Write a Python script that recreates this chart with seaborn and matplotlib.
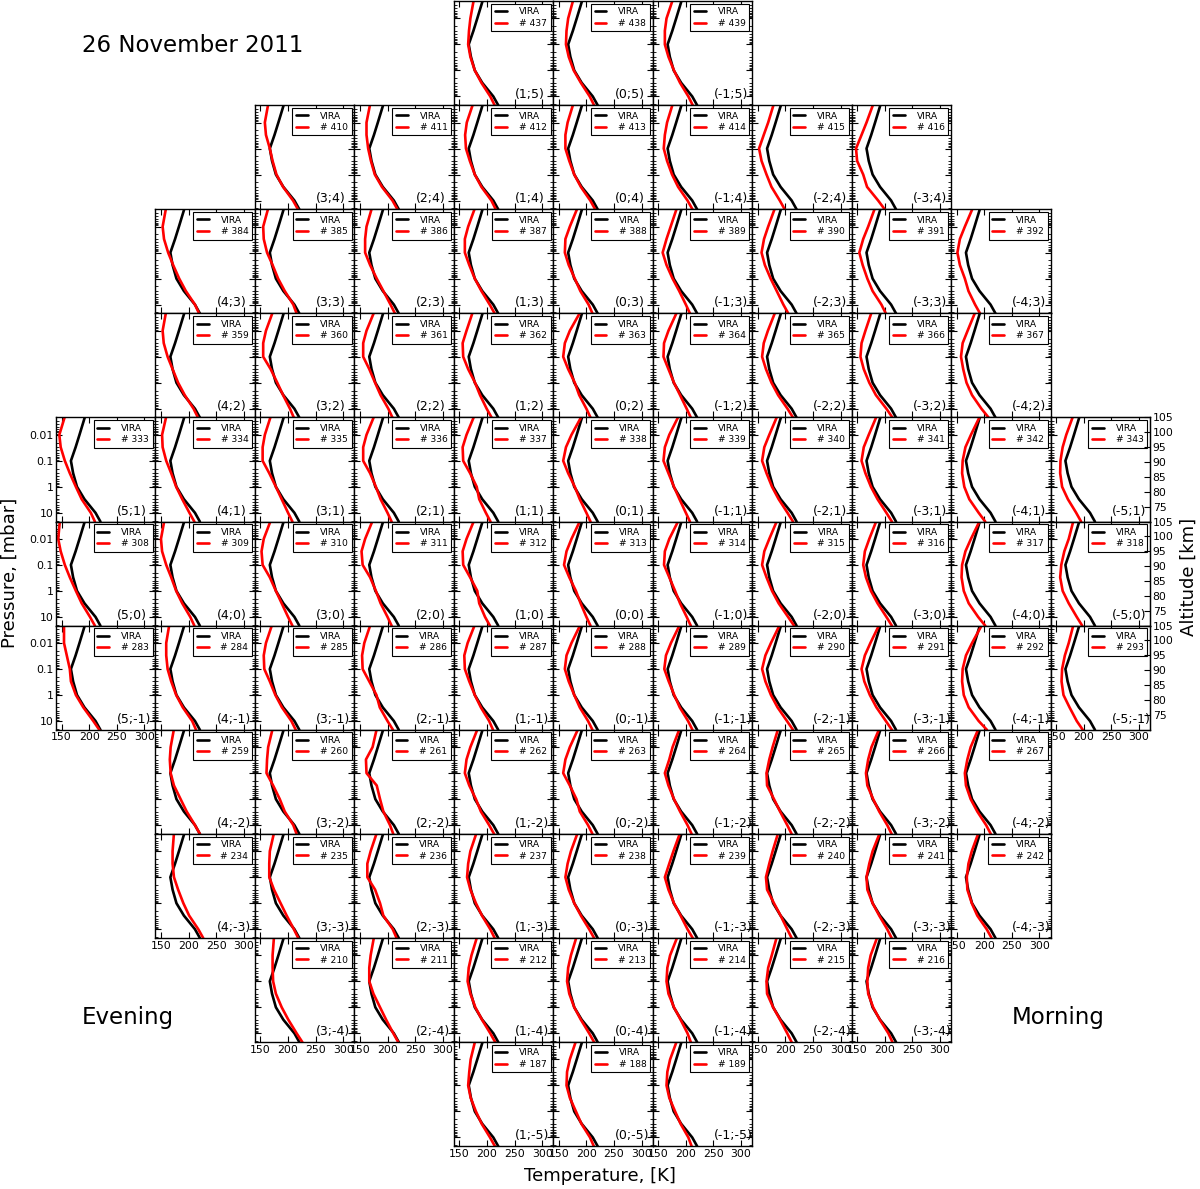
import pandas as pd
import seaborn as sns
import matplotlib.pyplot as plt
from matplotlib.ticker import FixedLocator, LogLocator, NullFormatter

sns.set_style("ticks", {"xtick.direction": "in", "ytick.direction": "in",
                        "axes.edgecolor": "black", "text.color": "black",
                        "xtick.color": "black", "ytick.color": "black",
                        "axes.labelcolor": "black"})
plt.rcParams['font.family'] = ['DejaVu Sans']

# pressure levels [mbar] (top -> bottom) and VIRA reference temperature [K]
pressure = [0.002, 0.01, 0.03, 0.1, 0.3, 1, 3, 10, 22]
vira = [192.5, 182.5, 175.5, 167, 171, 178, 191.5, 211.5, 220.5]

# grid rows: latitude index, first (leftmost) x index, first profile number
row_y = [5, 4, 3, 2, 1, 0, -1, -2, -3, -4, -5]
row_x0 = [1, 3, 4, 4, 5, 5, 5, 4, 4, 3, 1]
row_id0 = [437, 410, 384, 359, 333, 308, 283, 259, 234, 210, 187]

# retrieved temperature profiles, one list per panel, left to right
red_y5 = [[176, 170, 167.5, 166, 170, 178, 190, 206, 214],
          [176, 167, 164, 163, 168, 177, 190, 206, 214],
          [176, 165, 162, 162, 168.5, 178.5, 189.5, 204.5, 212.5]]
red_y4 = [[164, 158, 160, 167, 172, 179, 191, 209, 218],
          [168.5, 162, 162, 165, 170, 177, 190, 209, 218],
          [174.5, 163.5, 160.5, 162, 169, 178, 190, 208, 216],
          [176, 166, 162, 162, 169, 178, 190, 207, 216],
          [176, 166, 162, 160, 166, 175, 186, 203, 212],
          [179, 169, 161, 152.5, 157, 166, 175, 190, 199],
          [179, 167, 158, 148, 150, 161, 168, 188, 200]]
red_y3 = [[159, 153, 155.5, 163, 172, 183, 195, 211.5, 219],
          [164, 155, 156, 162, 172, 182, 194, 209.5, 215.5],
          [171.5, 162, 159.5, 159.5, 168.5, 180.5, 192.5, 205.5, 213.5],
          [178, 166, 160, 160, 168, 178, 190, 205, 214],
          [183.5, 170, 162, 161, 168, 179, 189, 204, 211],
          [183.5, 172.5, 165, 158, 165, 176, 188, 200, 207.5],
          [181, 169, 161.5, 157, 163, 173.5, 184.5, 196.5, 205.5],
          [182, 170, 161, 154, 160, 168.5, 178, 194, 202],
          [179, 165, 156, 151.5, 156, 165, 171.5, 183.5, 192.5]]
red_y2 = [[159, 153, 155, 162, 171, 181, 193, 209, 217],
          [172, 160, 155, 155, 168.5, 180.5, 191, 203.5, 210.5],
          [175.5, 162, 156, 156, 167, 177.5, 187.5, 201.5, 209],
          [174, 163, 156, 157, 166, 178.5, 187.5, 199.5, 208.5],
          [188.5, 170, 161, 158, 167, 179, 187, 200, 207.5],
          [183.5, 168.5, 160.5, 159.5, 168.5, 178.5, 189.5, 201.5, 209],
          [181.5, 168.5, 161, 158, 165, 175, 187, 204, 214],
          [176, 165, 158, 156, 162, 172, 184, 203, 214],
          [183.5, 170, 161, 158, 162, 168, 178, 195, 208]]
red_y1 = [[156, 146, 148.5, 156, 165, 176, 186.5, 203, 210.5],
          [159.5, 152, 153, 159.5, 168.5, 177.5, 188.5, 201.5, 210.5],
          [168.5, 158, 154, 154, 166, 178, 188.5, 200, 208],
          [175.5, 162, 156, 156, 168.5, 179, 187.5, 200, 207.5],
          [176.5, 163, 156, 157, 169.5, 181.5, 186, 198, 206.5],
          [191, 173, 163, 158, 167, 179, 188, 200, 207.5],
          [186.5, 170, 162, 159.5, 168.5, 178.5, 188.5, 200, 207.5],
          [185, 171, 162, 158, 166, 176, 188, 204, 214],
          [185, 171, 162, 158, 165, 175, 187, 203, 213],
          [192, 176, 166, 161, 160, 164, 173, 190, 202],
          [180.5, 168.5, 162, 158, 157.5, 161, 171.5, 186.5, 195.5]]
red_y0 = [[147, 144, 148.5, 156, 165, 176, 186.5, 201.5, 210.5],
          [156, 150, 152, 159.5, 168.5, 177.5, 188.5, 203, 210.5],
          [168.5, 156, 152, 154, 167, 178, 188.5, 200, 208],
          [173, 159.5, 153, 155, 168.5, 179, 187.5, 200, 207.5],
          [176.5, 163, 156, 157, 169.5, 182.5, 186, 196.5, 205.5],
          [188.5, 173, 164, 159.5, 169, 181, 189.5, 200, 207.5],
          [186.5, 170, 162, 160.5, 170, 180.5, 189.5, 201.5, 209],
          [185, 171, 162, 158, 166, 176, 188, 205, 216],
          [185, 172, 164, 161, 166, 175, 187, 203, 213],
          [192, 176, 166, 160, 159, 163, 172, 189, 202],
          [181.5, 173, 165, 159.5, 157.5, 162, 173, 187.5, 197.5]]
red_ym1 = [[154.5, 154.5, 159.5, 165, 167, 176, 189.5, 207.5, 218.5],
           [165, 159.5, 159.5, 162, 168.5, 177.5, 189.5, 206.5, 213.5],
           [171, 160, 156, 157, 167, 177, 189, 206, 214],
           [169, 158, 154, 155, 167, 180, 186, 200, 210],
           [178, 165, 159, 160, 168, 178, 189, 204, 211],
           [189, 173, 164, 161, 168, 178, 188, 203, 211],
           [189, 173, 164, 161, 169, 179, 189, 204, 212],
           [190, 174, 164, 158, 164, 174, 186, 203, 214],
           [190, 174, 164, 158, 163, 173, 185, 202, 213],
           [196, 178, 167, 161, 160, 163, 172, 190, 205],
           [181.5, 173, 166, 161, 160, 163.5, 174.5, 187.5, 198.5]]
red_ym2 = [[173.5, 167.5, 166, 167.5, 173.5, 185.5, 196.5, 211.5, 220.5],
           [172, 164, 162, 161, 173, 185, 194, 209.5, 215.5],
           [180.5, 173, 161, 162, 180.5, 186.5, 192.5, 204.5, 210.5],
           [183, 170, 163, 160, 168, 180, 189, 204, 213],
           [185, 170, 162, 158, 170, 182, 188, 203, 211],
           [188.5, 176, 170, 162, 168.5, 178.5, 189.5, 203, 210.5],
           [187, 177, 171, 166, 167, 179.5, 190.5, 203.5, 211.5],
           [190, 176, 170, 166, 168.5, 179, 190, 204.5, 212.5],
           [189.5, 175.5, 169.5, 165, 167, 175.5, 187.5, 203.5, 212]]
red_ym3 = [[173.5, 171, 171, 173.5, 181, 190.5, 201, 217.5, 226.5],
           [174.5, 167, 166, 166, 174.5, 186.5, 197.5, 210.5, 218.5],
           [180.5, 169.5, 163.5, 163.5, 177.5, 186.5, 192.5, 209.5, 216.5],
           [181, 170, 166, 164, 170, 180, 191, 206, 214],
           [184, 172, 166, 162, 168, 178, 190, 205, 214],
           [189.5, 177.5, 170, 162, 168.5, 178.5, 190.5, 203, 212.5],
           [187, 177, 171, 165, 167, 179.5, 191.5, 203.5, 211.5],
           [191, 178, 172, 167, 168.5, 178, 190, 204.5, 212.5],
           [189.5, 177.5, 171.5, 168.5, 169.5, 177.5, 187.5, 204.5, 213.5]]
red_ym4 = [[174.5, 172, 172, 173, 178, 188.5, 200.5, 215.5, 226],
           [175.5, 169.5, 167, 167, 174.5, 186.5, 197.5, 210.5, 219.5],
           [182, 172, 167, 165, 170, 179, 191, 206, 215],
           [182, 172, 167, 165, 169, 178, 190, 205, 214],
           [184.5, 171.5, 166.5, 165, 168.5, 178.5, 190.5, 203, 209],
           [184.5, 175.5, 169, 166, 167, 178, 190.5, 203.5, 211.5],
           [186.5, 174.5, 170, 168.5, 170, 179, 191, 206.5, 214]]
red_ym5 = [[178.5, 170.5, 168, 166, 170.5, 180, 190.5, 205.5, 214.5],
           [181, 170, 165, 164, 170, 181, 191, 206.5, 213.5],
           [183.5, 171.5, 166.5, 165, 170, 180.5, 190.5, 204.5, 210.5]]

red_rows = [red_y5, red_y4, red_y3, red_y2, red_y1, red_y0,
            red_ym1, red_ym2, red_ym3, red_ym4, red_ym5]

W, H = 1200, 1189
fig = plt.figure(figsize=(W / 100, H / 100), dpi=100)
pw, ph = 99.45, 104.1

# which (x, y) panels exist -> needed to know bottom-of-column panels
present = set()
for y, x0, reds in zip(row_y, row_x0, red_rows):
    for i in range(len(reds)):
        present.add((x0 - i, y))

for y, x0, id0, reds in zip(row_y, row_x0, row_id0, red_rows):
    for i, red in enumerate(reds):
        x = x0 - i
        pid = id0 + i
        c, r = 5 - x, 5 - y
        left = (56 + c * pw) / W
        bottom = 1 - (1 + (r + 1) * ph) / H
        ax = fig.add_axes([left, bottom, pw / W, ph / H])

        df = pd.DataFrame({
            'T': vira + red,
            'p': pressure + pressure,
            'curve': ['VIRA'] * len(vira) + [f'# {pid}'] * len(red),
        })
        sns.lineplot(data=df, x='T', y='p', hue='curve',
                     palette=['black', 'red'], orient='y', sort=False,
                     lw=1.9, ax=ax)

        ax.set_yscale('log')
        ax.set_xlim(140, 320)
        ax.set_ylim(21.6, 0.00214)
        ax.set_xlabel('')
        ax.set_ylabel('')

        ax.xaxis.set_major_locator(FixedLocator([150, 200, 250, 300]))
        ax.yaxis.set_major_locator(FixedLocator([0.01, 0.1, 1, 10]))
        ax.yaxis.set_minor_locator(LogLocator(base=10, subs=range(2, 10)))
        ax.yaxis.set_minor_formatter(NullFormatter())
        ax.set_yticklabels(['0.01', '0.1', '1', '10'])
        ax.tick_params(which='both', direction='in', top=True, right=True,
                       labelsize=7.8, pad=2)
        ax.tick_params(which='major', length=4, width=0.8)
        ax.tick_params(which='minor', length=2, width=0.6)
        ax.tick_params(labelleft=(x == 5),
                       labelbottom=((x, y - 1) not in present))
        for sp in ax.spines.values():
            sp.set_linewidth(1.0)
            sp.set_color('black')

        handles, labels = ax.get_legend_handles_labels()
        leg = ax.legend(handles, labels, loc='upper right', fontsize=6.6,
                        frameon=True, fancybox=False, framealpha=1,
                        edgecolor='black', handlelength=1.3,
                        handletextpad=1.3, borderpad=0.4,
                        labelspacing=0.25, borderaxespad=0.3)
        leg.get_frame().set_linewidth(0.8)

        ax.text(0.615, 0.10, f'({x};{y})', transform=ax.transAxes,
                fontsize=9, ha='left', va='center')

        if x == -5:
            ax2 = ax.twinx()
            ax2.set_ylim(70, 105)
            ax2.set_yticks([75, 80, 85, 90, 95, 100, 105])
            ax2.tick_params(direction='in', length=4, width=0.8,
                            labelsize=7.8, pad=2)

fig.text(0.068, 0.962, '26 November 2011', fontsize=16.5, ha='left', va='center')
fig.text(0.068, 0.144, 'Evening', fontsize=16.5, ha='left', va='center')
fig.text(0.843, 0.144, 'Morning', fontsize=16.5, ha='left', va='center')
fig.text(0.5, 0.011, 'Temperature, [K]', fontsize=13, ha='center', va='center')
fig.text(0.008, 0.518, 'Pressure, [mbar]', fontsize=13, rotation=90,
         ha='center', va='center')
fig.text(0.991, 0.515, 'Altitude [km]', fontsize=13, rotation=90,
         ha='center', va='center')

fig.savefig('out.png', dpi=100, facecolor='white')
